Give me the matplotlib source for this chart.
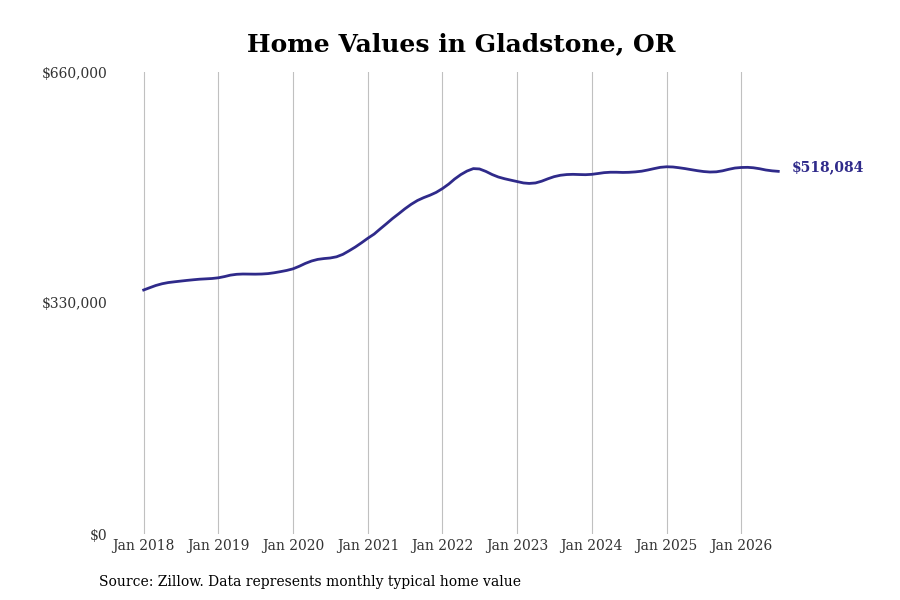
import pandas as pd
import matplotlib
matplotlib.use("Agg")
import matplotlib.pyplot as plt
import matplotlib.dates as mdates
from matplotlib.ticker import FuncFormatter

# Monthly typical home value, Jan 2018 - Jul 2026
start_month = "2018-01-01"
values = [
    348.6, 352.0, 355.0, 357.5, 359.2, 360.3, 361.3, 362.3, 363.2, 364.0, 364.5, 365.0,
    366.0, 367.8, 369.8, 371.0, 371.4, 371.3, 371.2, 371.4, 372.0, 373.2, 374.8, 376.5,
    378.8, 382.5, 386.5, 390.0, 392.3, 393.5, 394.3, 396.0, 399.5, 404.5, 410.0, 416.0,
    422.5, 428.5, 435.5, 443.0, 450.5, 457.5, 464.5, 471.0, 476.5, 480.5, 484.0, 488.0,
    493.5, 500.0, 507.0, 513.5, 518.5, 522.0, 521.5, 518.0, 513.5, 510.0, 507.5, 505.5,
    503.5, 501.5, 500.8, 501.5, 504.0, 507.5, 510.5, 512.5, 513.5, 513.8, 513.5, 513.3,
    513.8, 515.0, 516.2, 516.8, 516.8, 516.5, 516.7, 517.3, 518.3, 520.0, 522.0, 523.8,
    524.6, 524.3, 523.3, 522.0, 520.5, 519.0, 517.8, 517.1, 517.4, 518.8, 521.0, 522.8,
    523.6, 523.8, 523.2, 521.8, 520.0, 518.8, 518.084,
]
values = [v * 1000 for v in values]
dates = pd.date_range(start_month, periods=len(values), freq="MS")

y_ticks = [0, 330000, 660000]
last_label = "$518,084"
title = "Home Values in Gladstone, OR"
source = "Source: Zillow. Data represents monthly typical home value"

line_color = "#2f2a8a"
plt.rcParams["font.family"] = ["DejaVu Serif"]

fig = plt.figure(figsize=(9, 6), dpi=100)
ax = fig.add_axes([0.1244, 0.11, 0.7756, 0.77])

ax.plot(dates, values, color=line_color, lw=2)
ax.set_ylim(0, 660000)
ax.set_yticks(y_ticks)
ax.yaxis.set_major_formatter(FuncFormatter(lambda v, p: "${:,.0f}".format(v)))

ax.xaxis.set_major_locator(mdates.YearLocator())
ax.xaxis.set_major_formatter(mdates.DateFormatter("Jan %Y"))
ax.grid(axis="x", color="#c0c0c0", lw=0.8)
ax.grid(axis="y", visible=False)
ax.tick_params(length=0, labelsize=10, colors="#333333")
ax.tick_params(axis="x", pad=3.5)
ax.tick_params(axis="y", pad=3.5)
for s in ax.spines.values():
    s.set_visible(False)

ax.annotate(last_label, xy=(dates[-1], values[-1]), xytext=(10, 3),
            textcoords="offset points", va="center", ha="left",
            color=line_color, fontsize=10, fontweight="bold")

fig.text(0.512, 0.927, title, ha="center", va="center", fontsize=18, fontweight="bold")
fig.text(0.11, 0.03, source, ha="left", va="center", fontsize=10)

fig.savefig("out.png", dpi=100)
